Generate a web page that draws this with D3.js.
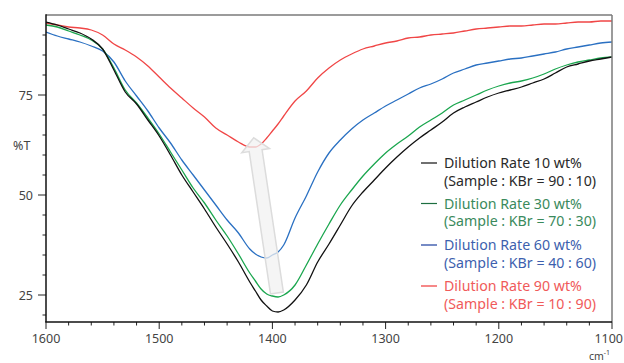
<!DOCTYPE html>
<html>
<head>
<meta charset="utf-8">
<script src="https://cdn.jsdelivr.net/npm/d3@7/dist/d3.min.js"></script>
<style>
  html, body { margin: 0; padding: 0; background: #fff; }
  svg { display: block; font-family: "Noto Sans", "Open Sans", sans-serif; }
</style>
</head>
<body>
<svg id="chart" width="624" height="363"></svg>
<script>
// Wavenumber grid (cm-1) shared by all spectra
const wavenumbers = [1600,1590,1580,1570,1560,1550,1540,1530,1520,1510,1500,1490,1480,1470,1460,1450,1440,1430,1420,1415,1410,1405,1400,1395,1390,1380,1370,1360,1350,1340,1330,1320,1310,1300,1290,1280,1270,1260,1250,1240,1230,1220,1210,1200,1190,1180,1170,1160,1150,1140,1130,1120,1110,1100];

// Transmittance (%T) for each dilution rate
const t10 = [93.25,92.5,91.5,90.5,89,86.5,81.25,75.75,72.75,68.75,64.75,60,55,50.75,46.5,42,37.75,33.25,28.25,26,23.75,22.25,21,20.75,21.25,23.75,27.5,33.25,37.75,42.5,47.25,50.75,53.75,56.75,59.5,62,64.25,66.25,68.25,70.5,72,73.25,74.5,75.5,76.25,77,78,79,80.5,82,82.75,83.5,84,84.5];
const t30 = [92.5,92,91,90,88.75,86.5,81.75,76.25,73,69.25,65.25,60.75,56.25,51.75,48,43.75,39.75,35.25,30.5,28.5,26.5,25.25,24.75,24.5,25,27.5,32.5,37.75,42.75,47.5,51.25,54.75,57.75,60.5,62.75,64.75,67,68.75,70.5,72.5,73.75,75,76.25,77.25,78,78.5,79.25,80.25,81.5,82.5,83.25,83.75,84.25,84.5];
const t60 = [90.75,89.75,89,88.25,87.25,86,83.25,78.5,74.75,71,66.75,63,58.75,55,51.25,47.5,43.75,40.5,36.5,35.25,34.5,34.25,35,35.75,37.5,44.25,49.75,55.75,60.5,63.75,66.5,68.75,70.5,72.25,73.75,75.25,76.75,77.75,79,80.5,81.5,82.5,83,83.5,84,84.25,84.75,85.25,85.75,86.5,87,87.5,88,88.25];
const t90 = [93,92.5,92,91.75,91.25,90,87.75,86.25,84.5,82.25,79.5,76.75,74.25,71.75,69.5,66.75,65,63.25,62,62,62.75,64.25,66,67.75,69.75,73.5,76,79.25,81.75,83.75,85.25,86.5,87.25,88,88.5,89.25,89.5,90,90.25,90.5,91,91.5,91.75,92,92.25,92.25,92.5,92.75,92.75,93,93.25,93.25,93.5,93.5];

const xTicks = [1600,1500,1400,1300,1200,1100];
const yTicks = [25,50,75];

const seriesNames = ["Dilution Rate 10 wt%","Dilution Rate 30 wt%","Dilution Rate 60 wt%","Dilution Rate 90 wt%"];
const seriesRatios = ["(Sample : KBr = 90 : 10)","(Sample : KBr = 70 : 30)","(Sample : KBr = 40 : 60)","(Sample : KBr = 10 : 90)"];
const seriesValues = [t10, t30, t60, t90];
const lineColors = ["#111111","#1aa64e","#2a70c2","#f04646"];
const swatchColors = ["#111111","#1d6e40","#1c3f9e","#f03a3a"];
const textColors = ["#2a2a2a","#3a8a5c","#3d5fae","#f05a5a"];

const svg = d3.select("#chart");
const M = { left: 46, right: 612, top: 15, bottom: 322 };

const x = d3.scaleLinear().domain([1600, 1100]).range([M.left, M.right]);
const y = d3.scaleLinear().domain([18.25, 95]).range([M.bottom, M.top]);

// Spectra
const line = d3.line()
  .x((d, i) => x(wavenumbers[i]))
  .y(d => y(d))
  .curve(d3.curveMonotoneX);

svg.append("defs").append("clipPath").attr("id", "clip")
  .append("rect").attr("x", M.left).attr("y", M.top)
  .attr("width", M.right - M.left).attr("height", M.bottom - M.top);

const curves = svg.append("g").attr("clip-path", "url(#clip)");
// draw 90 first so that the dense spectra sit on top
[3, 2, 1, 0].forEach(k => {
  curves.append("path")
    .datum(seriesValues[k])
    .attr("d", line)
    .attr("fill", "none")
    .attr("stroke", lineColors[k])
    .attr("stroke-width", 1.3)
    .attr("stroke-linejoin", "round");
});

// Trend arrow from the strongest to the weakest absorption minimum
(function drawArrow() {
  const x0 = x(1396), y0 = y(25.5);   // tail
  const x1 = x(1416.5), y1 = y(64.3); // tip
  const dx = x1 - x0, dy = y1 - y0;
  const len = Math.hypot(dx, dy);
  const ux = dx / len, uy = dy / len;
  const px = -uy, py = ux;
  const shaftHalf = 6.5, headHalf = 14, headLen = 13;
  const bx = x1 - ux * headLen, by = y1 - uy * headLen;
  const pts = [
    [x0 + px * shaftHalf, y0 + py * shaftHalf],
    [bx + px * shaftHalf, by + py * shaftHalf],
    [bx + px * headHalf, by + py * headHalf],
    [x1, y1],
    [bx - px * headHalf, by - py * headHalf],
    [bx - px * shaftHalf, by - py * shaftHalf],
    [x0 - px * shaftHalf, y0 - py * shaftHalf]
  ];
  svg.append("path")
    .attr("d", "M" + pts.map(p => p.join(",")).join("L") + "Z")
    .attr("fill", "#f1f1f1")
    .attr("fill-opacity", 0.75)
    .attr("stroke", "#dcdcdc")
    .attr("stroke-width", 1.5)
    .attr("stroke-linejoin", "miter");
})();

// Frame: top and right in grey
svg.append("line").attr("x1", M.left).attr("x2", M.right).attr("y1", M.top).attr("y2", M.top)
  .attr("stroke", "#7a7a7a").attr("stroke-width", 1.5);
svg.append("line").attr("x1", M.right).attr("x2", M.right).attr("y1", M.top).attr("y2", M.bottom)
  .attr("stroke", "#7a7a7a").attr("stroke-width", 1.5);

// Bottom axis with minor ticks every 20 cm-1
const xMinor = d3.range(1600, 1099, -20).filter(v => v % 100 !== 0);
const gx = svg.append("g");
gx.selectAll("line.minor").data(xMinor).join("line").attr("class", "minor")
  .attr("x1", d => x(d)).attr("x2", d => x(d))
  .attr("y1", M.bottom).attr("y2", M.bottom + 3.5)
  .attr("stroke", "#222").attr("stroke-width", 1);
gx.selectAll("line.major").data(xTicks).join("line").attr("class", "major")
  .attr("x1", d => x(d)).attr("x2", d => x(d))
  .attr("y1", M.bottom).attr("y2", M.bottom + 7)
  .attr("stroke", "#222").attr("stroke-width", 1);
gx.selectAll("text").data(xTicks).join("text")
  .attr("x", d => d === 1100 ? 623 : x(d)).attr("y", 343)
  .attr("text-anchor", d => d === 1100 ? "end" : "middle")
  .attr("font-size", 12.5).attr("fill", "#444")
  .text(d => d);
gx.append("line").attr("x1", M.left - 0.75).attr("x2", M.right).attr("y1", M.bottom).attr("y2", M.bottom)
  .attr("stroke", "#111").attr("stroke-width", 1.5);

// Left axis with minor ticks every 5 %T
const yMinor = d3.range(20, 95, 5).filter(v => v % 25 !== 0);
const gy = svg.append("g");
gy.selectAll("line.minor").data(yMinor).join("line").attr("class", "minor")
  .attr("x1", M.left - 3.5).attr("x2", M.left)
  .attr("y1", d => y(d)).attr("y2", d => y(d))
  .attr("stroke", "#222").attr("stroke-width", 1);
gy.selectAll("line.major").data(yTicks).join("line").attr("class", "major")
  .attr("x1", M.left - 8).attr("x2", M.left)
  .attr("y1", d => y(d)).attr("y2", d => y(d))
  .attr("stroke", "#222").attr("stroke-width", 1);
gy.selectAll("text").data(yTicks).join("text")
  .attr("x", 33).attr("y", d => y(d) + 4.5)
  .attr("text-anchor", "end")
  .attr("font-size", 12.5).attr("fill", "#444")
  .text(d => d);
gy.append("line").attr("x1", M.left).attr("x2", M.left).attr("y1", M.top - 0.75).attr("y2", M.bottom)
  .attr("stroke", "#111").attr("stroke-width", 1.5);

// Axis titles
svg.append("text").attr("x", 13).attr("y", 150)
  .attr("font-size", 12.5).attr("fill", "#444").text("%T");
const unit = svg.append("text").attr("x", 589).attr("y", 360)
  .attr("font-size", 10.5).attr("fill", "#444");
unit.append("tspan").text("cm");
unit.append("tspan").attr("dy", -5).attr("font-size", 7).text("-1");

// Legend
const legend = svg.append("g");
const rowY = [163, 203.5, 245, 286];
seriesNames.forEach((name, k) => {
  const g = legend.append("g");
  g.append("line").attr("x1", 421).attr("x2", 437)
    .attr("y1", rowY[k]).attr("y2", rowY[k])
    .attr("stroke", swatchColors[k]).attr("stroke-width", 1.2);
  g.append("text").attr("x", 444).attr("y", rowY[k] + 5)
    .attr("font-size", 14.2).attr("fill", textColors[k]).text(name);
  g.append("text").attr("x", 444).attr("y", rowY[k] + 22.5)
    .attr("font-size", 14.2).attr("fill", textColors[k]).text(seriesRatios[k]);
});
</script>
</body>
</html>
